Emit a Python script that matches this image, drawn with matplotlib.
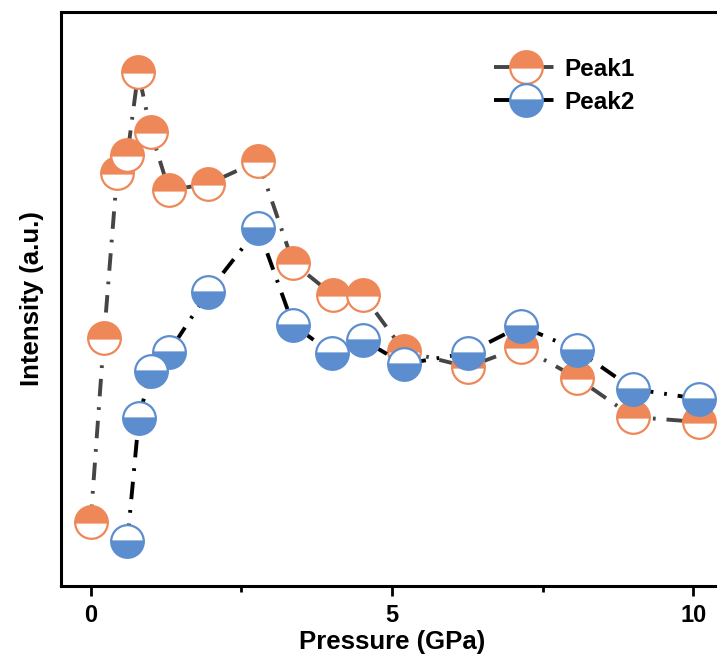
import matplotlib
matplotlib.use("Agg")
import matplotlib.pyplot as plt
from matplotlib.ticker import MultipleLocator

plt.rcParams['font.family'] = ['Liberation Sans', 'DejaVu Sans']
plt.rcParams['font.weight'] = 'bold'

# Data (arbitrary intensity units)
peak1_p = [0.0, 0.22, 0.44, 0.61, 0.79, 1.0, 1.30, 1.95, 2.78, 3.36, 4.02, 4.52, 5.2, 6.26, 7.14, 8.07, 9.0, 10.1]
peak1_i = [0.64, 2.48, 4.13, 4.31, 5.14, 4.54, 3.96, 4.02, 4.25, 3.23, 2.91, 2.91, 2.35, 2.19, 2.39, 2.08, 1.69, 1.64]
peak2_p = [0.61, 0.80, 1.0, 1.30, 1.95, 2.78, 3.36, 4.0, 4.52, 5.2, 6.26, 7.14, 8.07, 9.0, 10.1]
peak2_i = [0.45, 1.68, 2.15, 2.34, 2.94, 3.58, 2.61, 2.33, 2.46, 2.22, 2.33, 2.60, 2.36, 1.97, 1.87]
x_ticks = [0, 5, 10]
x_ticklabels = ['0', '5', '10']

orange = '#EF8858'
blue = '#5B8DCF'
dash = (0, (4.5, 2.8, 0.7, 2.8))

fig = plt.figure(figsize=(7.17, 6.61), dpi=100)
ax = fig.add_axes([60.5/717, 75/661, 663/717, 574/661])

ax.plot(peak1_p, peak1_i, color='#454545', lw=2.8, linestyle=dash,
        marker='o', markersize=23.5, fillstyle='top', markerfacecolor=orange,
        markerfacecoloralt='white', markeredgecolor=orange, markeredgewidth=1.6,
        label='Peak1', zorder=3)
ax.plot(peak2_p, peak2_i, color='black', lw=2.8, linestyle=dash,
        marker='o', markersize=23.5, fillstyle='bottom', markerfacecolor=blue,
        markerfacecoloralt='white', markeredgecolor=blue, markeredgewidth=1.6,
        label='Peak2', zorder=4)

ax.set_xlim(-0.5, 10.5)
ax.set_ylim(0, 5.74)
ax.set_xticks(x_ticks)
ax.set_xticklabels(x_ticklabels)
ax.xaxis.set_minor_locator(MultipleLocator(2.5))
ax.tick_params(axis='x', which='major', direction='out', length=7, width=2, labelsize=17, pad=6)
ax.tick_params(axis='x', which='minor', direction='out', length=4, width=2)
ax.set_yticks([])
for s in ax.spines.values():
    s.set_linewidth(2.2)
for lab in ax.get_xticklabels():
    lab.set_fontweight('bold')

ax.set_xlabel('Pressure (GPa)', fontsize=18.5, fontweight='bold', labelpad=2)
ax.set_ylabel('Intensity (a.u.)', fontsize=18.5, fontweight='bold', labelpad=12)

leg = ax.legend(loc='upper left', bbox_to_anchor=(494/717, 1 - 58/661),
                bbox_transform=fig.transFigure, frameon=False, borderpad=0,
                borderaxespad=0, handlelength=2.6, handletextpad=0.3,
                labelspacing=0.4, prop={'size': 17.5, 'weight': 'bold'})

fig.savefig('out.png', dpi=100)
